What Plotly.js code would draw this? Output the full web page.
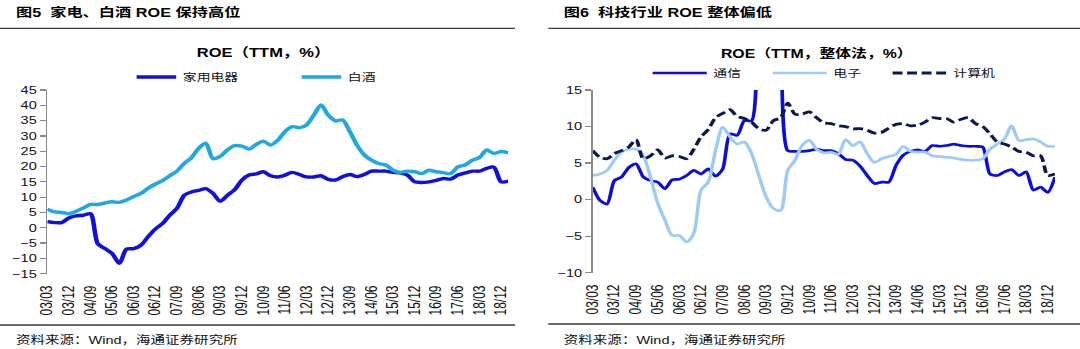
<!DOCTYPE html>
<html><head><meta charset="utf-8">
<script src="https://cdn.plot.ly/plotly-3.0.1.min.js"></script>
<style>
html,body{margin:0;padding:0;background:#fff;overflow:hidden;width:1080px;height:349px}
#wrap{width:818px;height:349px;transform:scaleX(1.3202934);transform-origin:0 0;}
</style></head>
<body><div id="wrap"><div id="chart" style="width:818px;height:349px"></div></div>
<script>
// ---- data (quarterly, TTM ROE %) ----
const dates = ['03/03','03/06','03/09','03/12','04/03','04/06','04/09','04/12','05/03','05/06','05/09','05/12',
 '06/03','06/06','06/09','06/12','07/03','07/06','07/09','07/12','08/03','08/06','08/09','08/12',
 '09/03','09/06','09/09','09/12','10/03','10/06','10/09','10/12','11/03','11/06','11/09','11/12',
 '12/03','12/06','12/09','12/12','13/03','13/06','13/09','13/12','14/03','14/06','14/09','14/12',
 '15/03','15/06','15/09','15/12','16/03','16/06','16/09','16/12','17/03','17/06','17/09','17/12',
 '18/03','18/06','18/09','18/12','19/03'];
const tickLabels = ['03/03','03/12','04/09','05/06','06/03','06/12','07/09','08/06','09/03','09/12','10/09',
 '11/06','12/03','12/12','13/09','14/06','15/03','15/12','16/09','17/06','18/03','18/12'];

const appliance = [2.0,1.7,1.7,3.2,3.9,4.1,4.6,-5.2,-6.8,-8.4,-11.6,-7.0,-6.8,-5.7,-2.9,-0.4,1.4,4.1,6.3,10.6,
 11.7,12.2,12.8,11.2,8.7,10.6,12.4,15.5,17.2,17.6,18.3,17.0,16.6,17.2,18.1,17.4,16.6,16.6,17.0,15.8,
 15.6,16.7,17.4,16.7,17.4,18.5,18.5,18.5,18.1,17.9,17.2,15.0,14.8,15.0,15.5,16.1,15.9,17.2,17.9,18.5,
 18.5,19.4,19.8,15.0,15.2];
const liquor = [6.1,5.2,5.0,4.6,5.4,6.5,7.6,7.6,8.1,8.5,8.3,9.1,10.2,11.2,12.9,14.3,15.4,17.0,18.5,21.0,
 22.9,25.9,27.6,22.6,23.3,25.4,26.8,26.7,25.7,27.2,28.3,27.0,28.6,31.4,33.0,32.7,33.6,36.8,40.1,36.8,
 34.9,35.2,31.4,27.0,23.8,22.1,21.0,20.5,18.8,18.1,18.5,18.3,17.7,18.8,18.3,18.0,17.7,19.9,20.5,22.1,
 22.9,25.4,24.3,24.9,24.5];

const telecom = [1.7,-0.1,-0.6,2.6,3.1,4.4,4.9,3.1,2.6,2.4,1.5,2.7,2.8,3.3,4.0,3.5,4.2,3.2,4.2,9.0,
 8.8,10.8,10.8,35,38,36,24,6.7,6.6,6.6,6.7,6.9,6.7,6.7,6.3,5.5,5.4,4.6,3.3,2.2,
 2.4,2.4,4.7,6.1,6.6,6.8,6.6,7.4,7.3,7.4,7.6,7.4,7.3,7.3,7.2,3.5,3.3,3.8,4.1,3.3,
 3.8,1.3,1.7,1.0,3.1];
const electronics = [3.3,3.5,4.0,5.4,6.5,6.9,6.9,6.0,3.1,-0.5,-2.8,-4.9,-4.9,-5.8,-4.6,1.3,2.4,6.7,9.9,8.6,
 7.6,7.9,6.3,3.3,0.4,-1.2,-1.5,4.0,5.4,7.4,8.1,6.9,6.4,6.5,6.2,8.2,7.4,7.9,6.3,5.1,
 5.6,5.9,6.2,7.3,6.6,6.5,6.5,6.0,5.9,5.8,5.7,5.5,5.4,5.4,5.6,6.9,7.6,8.3,10.1,8.1,
 8.2,8.3,7.9,7.3,7.3];
const computer = [6.7,5.8,5.6,6.3,6.7,7.2,8.2,5.6,6.0,6.8,5.7,6.0,5.9,5.6,6.9,8.6,9.6,11.2,11.8,12.3,
 11.4,11.1,10.6,9.7,9.5,10.8,11.2,13.2,11.7,11.7,12.0,11.2,10.5,10.4,10.1,10.0,9.7,9.7,9.5,9.1,
 9.2,9.8,10.3,10.4,10.1,10.2,10.6,11.2,11.1,11.1,10.6,11.0,11.2,10.4,10.0,9.0,7.9,7.6,7.2,6.6,
 6.5,6.0,6.0,3.3,3.5];

// ---- layout helpers (reference pixel -> paper fraction) ----
const IMGW = 1080, IMGH = 349;
const fx = p => p / IMGW;
const fy = p => 1 - p / IMGH;
const latin = 'Liberation Sans, Arial, sans-serif';
const mixed = 'Liberation Sans, Noto Sans CJK SC, sans-serif';
const cjk = 'Noto Sans CJK SC, sans-serif';
const axisGrey = '#8a8a8a';

const leftBox = {x0: 47.3, x1: 508.3, top: 90, bottom: 273.7, yr: [-15, 45]};
const rightBox = {x0: 592.7, x1: 1055, top: 90, bottom: 272.7, yr: [-10, 15]};
const lastIdx = dates.length - 1;
const tickIdx = tickLabels.map(t => dates.indexOf(t));

function zeroPos(box) {
  const d0 = fy(box.bottom), d1 = fy(box.top);
  return d0 + (0 - box.yr[0]) / (box.yr[1] - box.yr[0]) * (d1 - d0);
}

function labelAxis(box, anchor) {
  return {domain: [fx(box.x0), fx(box.x1)], anchor: anchor, type: 'category',
    range: [0, lastIdx], tickmode: 'array', tickvals: tickLabels, ticktext: tickLabels,
    tickangle: -90, showline: false, ticks: 'outside', ticklen: 6, tickcolor: 'rgba(0,0,0,0)',
    tickfont: {family: latin, size: 12, color: '#111'}, showgrid: false, zeroline: false, fixedrange: true};
}
function zeroAxis(box, over) {
  return {domain: [fx(box.x0), fx(box.x1)], overlaying: over, anchor: 'free', position: zeroPos(box),
    type: 'linear', range: [0, lastIdx], tickmode: 'array', tickvals: tickIdx, showticklabels: false,
    ticks: 'outside', ticklen: 5, tickwidth: 1.2, tickcolor: axisGrey, showline: true, linecolor: axisGrey,
    linewidth: 1.6, showgrid: false, zeroline: false, fixedrange: true};
}
function valueAxis(box, anchor) {
  return {domain: [fy(box.bottom), fy(box.top)], anchor: anchor, range: box.yr, dtick: 5, tick0: 0,
    ticks: 'outside', ticklen: 4.5, tickwidth: 1.2, tickcolor: axisGrey, showline: true, linecolor: axisGrey,
    linewidth: 1.3, showgrid: false, zeroline: false, tickfont: {family: latin, size: 11, color: '#111'},
    fixedrange: true};
}

const traces = [
  {x: dates, y: appliance, name: '家用电器', type: 'scatter', mode: 'lines', xaxis: 'x', yaxis: 'y',
   line: {color: '#1010dc', width: 3.4, shape: 'spline', smoothing: 0.8}, legend: 'legend'},
  {x: dates, y: liquor, name: '白酒', type: 'scatter', mode: 'lines', xaxis: 'x', yaxis: 'y',
   line: {color: '#1fa8e2', width: 3.4, shape: 'spline', smoothing: 0.8}, legend: 'legend2'},
  {x: dates, y: telecom, name: '通信', type: 'scatter', mode: 'lines', xaxis: 'x2', yaxis: 'y2',
   line: {color: '#0c0cdc', width: 2.7, shape: 'spline', smoothing: 0.7}, legend: 'legend3'},
  {x: dates, y: electronics, name: '电子', type: 'scatter', mode: 'lines', xaxis: 'x2', yaxis: 'y2',
   line: {color: '#9dcbf4', width: 2.7, shape: 'spline', smoothing: 0.8}, legend: 'legend4'},
  {x: dates, y: computer, name: '计算机', type: 'scatter', mode: 'lines', xaxis: 'x2', yaxis: 'y2',
   line: {color: '#0c1650', width: 2.8, dash: '7.5px,3.5px', shape: 'spline', smoothing: 0.8}, legend: 'legend5'}
];

function legendAt(xImg, yImg, iw) {
  return {x: fx(xImg), y: fy(yImg), xanchor: 'left', yanchor: 'middle', orientation: 'h',
    bgcolor: 'rgba(0,0,0,0)', borderwidth: 0, itemwidth: iw, font: {family: cjk, size: 10.5, color: '#111'}};
}

const layout = {
  width: 818, height: 349, margin: {l: 0, r: 0, t: 0, b: 0},
  paper_bgcolor: '#fff', plot_bgcolor: 'rgba(0,0,0,0)', showlegend: true,
  xaxis: labelAxis(leftBox, 'y'), xaxis3: zeroAxis(leftBox, 'x'), yaxis: valueAxis(leftBox, 'x'),
  xaxis2: labelAxis(rightBox, 'y2'), xaxis4: zeroAxis(rightBox, 'x2'), yaxis2: valueAxis(rightBox, 'x2'),
  legend: legendAt(130, 77, 30), legend2: legendAt(295, 77, 30),
  legend3: legendAt(646, 73, 41), legend4: legendAt(766, 73, 41), legend5: legendAt(886, 73, 41),
  annotations: [
    {text: '<b>图5\u00a0\u00a0家电、白酒 ROE 保持高位</b>', x: fx(12.7), y: fy(12.5), xref: 'paper', yref: 'paper',
     xanchor: 'left', yanchor: 'middle', showarrow: false, font: {family: mixed, size: 12.3, color: '#000'}},
    {text: '<b>图6\u00a0\u00a0科技行业 ROE 整体偏低</b>', x: fx(561.7), y: fy(12.5), xref: 'paper', yref: 'paper',
     xanchor: 'left', yanchor: 'middle', showarrow: false, font: {family: mixed, size: 12.3, color: '#000'}},
    {text: '<b>ROE（TTM，%）</b>', x: fx(264), y: fy(53), xref: 'paper', yref: 'paper',
     xanchor: 'center', yanchor: 'middle', showarrow: false, font: {family: mixed, size: 12.5, color: '#000'}},
    {text: '<b>ROE（TTM，整体法，%）</b>', x: fx(816.5), y: fy(53), xref: 'paper', yref: 'paper',
     xanchor: 'center', yanchor: 'middle', showarrow: false, font: {family: mixed, size: 12, color: '#000'}},
    {text: '资料来源：Wind，海通证券研究所', x: fx(12.7), y: fy(339.5), xref: 'paper', yref: 'paper',
     xanchor: 'left', yanchor: 'middle', showarrow: false, font: {family: mixed, size: 11, color: '#111'}},
    {text: '资料来源：Wind，海通证券研究所', x: fx(560.7), y: fy(339.5), xref: 'paper', yref: 'paper',
     xanchor: 'left', yanchor: 'middle', showarrow: false, font: {family: mixed, size: 11, color: '#111'}}
  ],
  shapes: [
    {type: 'line', xref: 'paper', yref: 'paper', x0: 0, x1: fx(515), y0: fy(28.3), y1: fy(28.3), line: {color: '#3a3a3a', width: 1.3}},
    {type: 'line', xref: 'paper', yref: 'paper', x0: fx(548.3), x1: 1, y0: fy(28.3), y1: fy(28.3), line: {color: '#3a3a3a', width: 1.3}},
    {type: 'line', xref: 'paper', yref: 'paper', x0: 0, x1: fx(515), y0: fy(325), y1: fy(325), line: {color: '#3a3a3a', width: 1.3}},
    {type: 'line', xref: 'paper', yref: 'paper', x0: fx(548.3), x1: 1, y0: fy(324), y1: fy(324), line: {color: '#3a3a3a', width: 1.3}}
  ]
};

Plotly.newPlot('chart', traces, layout, {displayModeBar: false, staticPlot: true});
</script></body></html>
